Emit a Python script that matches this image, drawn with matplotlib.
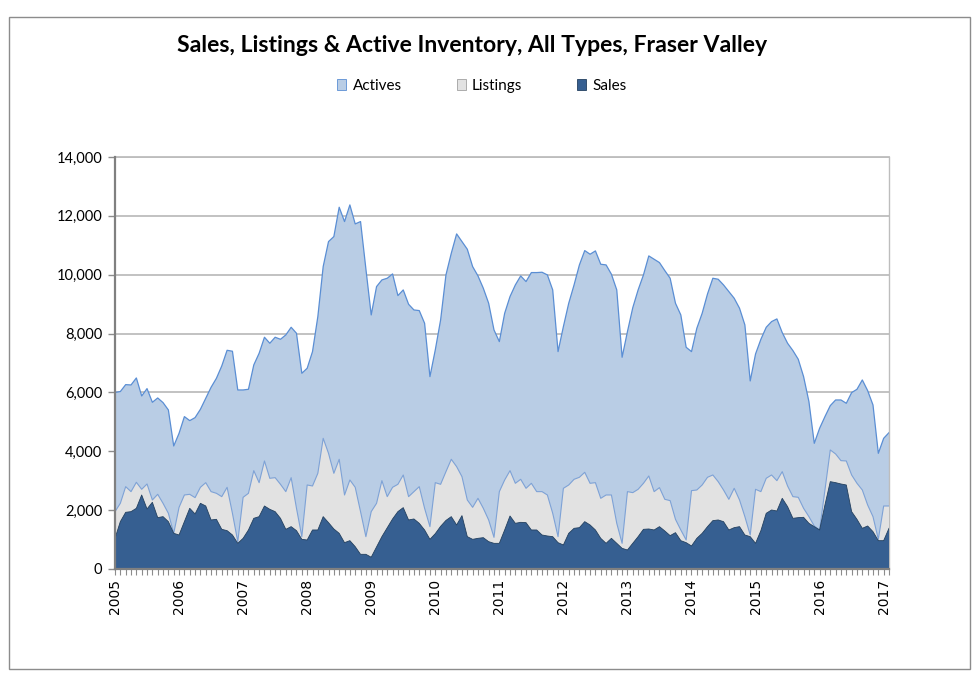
import numpy as np
import matplotlib
matplotlib.use("Agg")
import matplotlib.pyplot as plt
from matplotlib.patches import Rectangle, Patch
from matplotlib.ticker import FuncFormatter, MultipleLocator

# Monthly data, Jan 2005 .. Feb 2017
actives = [6000, 6030, 6265, 6254, 6492, 5880, 6130, 5665, 5812, 5654, 5404, 4180,
           4611, 5178, 5042, 5144, 5427, 5801, 6175, 6481, 6900, 7432, 7400, 6084,
           6084, 6107, 6934, 7331, 7875, 7671, 7875, 7806, 7954, 8214, 8010, 6651,
           6821, 7387, 8577, 10276, 11126, 11296, 12293, 11806, 12372, 11726, 11806, 10200,
           8633, 9597, 9823, 9880, 10027, 9291, 9483, 8996, 8803, 8781, 8350, 6537,
           7443, 8464, 9993, 10730, 11387, 11126, 10866, 10276, 9959, 9540, 9030, 8124,
           7727, 8690, 9257, 9653, 9959, 9767, 10073, 10073, 10084, 9993, 9483, 7387,
           8237, 9030, 9653, 10333, 10820, 10696, 10809, 10356, 10333, 10016, 9483, 7195,
           8067, 8880, 9483, 9993, 10639, 10526, 10412, 10140, 9880, 9030, 8633, 7534,
           7387, 8180, 8690, 9347, 9880, 9846, 9653, 9427, 9200, 8860, 8294, 6390,
           7308, 7806, 8214, 8407, 8498, 8033, 7671, 7421, 7127, 6537, 5688, 4271,
           4781, 5178, 5552, 5744, 5744, 5631, 5994, 6107, 6424, 6062, 5574, 3931,
           4441, 4634]

listings = [1949, 2232, 2798, 2629, 2946, 2708, 2889, 2345, 2538, 2232, 1892, 1212,
            2096, 2515, 2538, 2425, 2776, 2934, 2629, 2572, 2459, 2776, 1892, 929,
            2436, 2572, 3342, 2934, 3671, 3082, 3104, 2878, 2629, 3104, 2062, 1099,
            2855, 2821, 3252, 4441, 3931, 3252, 3728, 2515, 3025, 2776, 1949, 1099,
            1950, 2232, 3002, 2459, 2776, 2878, 3195, 2459, 2629, 2798, 2062, 1439,
            2934, 2878, 3308, 3728, 3478, 3138, 2345, 2096, 2402, 2062, 1666, 1076,
            2629, 3025, 3342, 2912, 3048, 2742, 2912, 2629, 2629, 2515, 1892, 1099,
            2742, 2855, 3048, 3116, 3286, 2912, 2934, 2402, 2515, 2515, 1552, 872,
            2629, 2595, 2708, 2912, 3161, 2629, 2765, 2368, 2323, 1688, 1326, 986,
            2663, 2685, 2855, 3116, 3195, 2968, 2685, 2368, 2742, 2345, 1779, 1156,
            2708, 2629, 3082, 3195, 3002, 3308, 2821, 2459, 2436, 2062, 1779, 1462,
            1326, 2685, 4045, 3909, 3682, 3671, 3195, 2912, 2685, 2175, 1779, 1008,
            2141, 2141]

sales = [1042, 1609, 1926, 1949, 2062, 2515, 2040, 2266, 1745, 1779, 1609, 1212,
         1156, 1609, 2062, 1870, 2232, 2141, 1666, 1688, 1348, 1303, 1156, 872,
         1042, 1326, 1722, 1779, 2141, 2028, 1949, 1722, 1348, 1439, 1303, 1008,
         986, 1326, 1326, 1779, 1575, 1360, 1212, 895, 963, 759, 499, 499,
         400, 750, 1100, 1400, 1700, 1950, 2085, 1666, 1700, 1552, 1326, 1008,
         1200, 1450, 1650, 1779, 1496, 1813, 1099, 1008, 1042, 1065, 929, 872,
         872, 1326, 1801, 1552, 1586, 1575, 1326, 1326, 1156, 1122, 1099, 895,
         816, 1212, 1382, 1405, 1609, 1496, 1326, 1042, 872, 1042, 872, 702,
         646, 872, 1099, 1348, 1360, 1326, 1439, 1292, 1133, 1235, 963, 895,
         782, 1042, 1212, 1439, 1643, 1666, 1609, 1326, 1405, 1439, 1156, 1099,
         872, 1303, 1892, 2005, 1971, 2402, 2119, 1722, 1745, 1756, 1552, 1439,
         1326, 2175, 2968, 2934, 2889, 2855, 1949, 1688, 1382, 1462, 1269, 963,
         963, 1382]

years = list(range(2005, 2018))

series_names = ["Actives", "Listings", "Sales"]

W, H = 979, 684
fig = plt.figure(figsize=(W / 100, H / 100), dpi=100)

# outer chart frame
fig.patches.append(Rectangle((9 / W, 1 - 669 / H), (970 - 9) / W, (669 - 17) / H,
                             transform=fig.transFigure, fill=False,
                             edgecolor="#8C8C8C", linewidth=1.0, zorder=0))

ax = fig.add_axes([115 / W, 1 - 569 / H, (889 - 115) / W, (569 - 157) / H])

x = np.arange(len(actives))

c_act_fill, c_act_edge = "#B9CDE5", "#5A8ED4"
c_lst_fill, c_lst_edge = "#E2E2E2", "#7EA2D6"
c_sal_fill, c_sal_edge = "#365F91", "#23405F"

ax.fill_between(x, 0, actives, facecolor=c_act_fill, edgecolor="none", zorder=2)
ax.plot(x, actives, color=c_act_edge, lw=0.9, zorder=2.1)
ax.fill_between(x, 0, listings, facecolor=c_lst_fill, edgecolor="none", zorder=3)
ax.plot(x, listings, color=c_lst_edge, lw=0.8, zorder=3.1)
ax.fill_between(x, 0, sales, facecolor=c_sal_fill, edgecolor="none", zorder=4)
ax.plot(x, sales, color=c_sal_edge, lw=0.6, zorder=4.1)

ax.set_xlim(0, len(actives) - 1)
ax.set_ylim(0, 14000)

ax.yaxis.set_major_locator(MultipleLocator(2000))
ax.yaxis.set_major_formatter(FuncFormatter(lambda v, p: f"{int(v):,}"))
ax.grid(axis="y", color="#BDBDBD", lw=1.3, zorder=1)
ax.set_axisbelow(True)

ax.set_xticks([12 * k for k in range(len(years))])
ax.set_xticklabels([str(y) for y in years], rotation=90, family="DejaVu Sans",
                   fontsize=10)
ax.xaxis.set_minor_locator(MultipleLocator(1))
ax.tick_params(axis="x", which="both", direction="out", length=4, width=0.8,
               color="#8C8C8C", pad=3)
ax.tick_params(axis="y", which="major", direction="out", length=5, width=1.0,
               color="#8C8C8C", labelsize=10.5, pad=4)
for lab in ax.get_yticklabels():
    lab.set_family("Lato")

for s in ["left", "bottom"]:
    ax.spines[s].set_color("#808080")
    ax.spines[s].set_linewidth(1.6)
    ax.spines[s].set_zorder(6)
ax.spines["top"].set_color("#BDBDBD")
ax.spines["top"].set_linewidth(1.3)
ax.spines["right"].set_color("#BDBDBD")
ax.spines["right"].set_linewidth(1.0)

fig.text(472 / W, 1 - 46 / H, "Sales, Listings & Active Inventory, All Types, Fraser Valley",
         ha="center", va="center", fontsize=16.6, fontweight="bold", family="Lato")

handles = [Patch(facecolor=c_act_fill, edgecolor=c_act_edge, lw=0.6),
           Patch(facecolor=c_lst_fill, edgecolor="#A0A0A0", lw=0.6),
           Patch(facecolor=c_sal_fill, edgecolor=c_sal_edge, lw=0.6)]
leg = fig.legend(handles, series_names, loc="center", ncol=3,
                 bbox_to_anchor=(482 / W, 1 - 86 / H), frameon=False,
                 prop={"family": "Lato", "size": 11}, handlelength=0.6,
                 handleheight=0.7, handletextpad=0.4, columnspacing=3.6)

fig.savefig("out.png", dpi=100)
